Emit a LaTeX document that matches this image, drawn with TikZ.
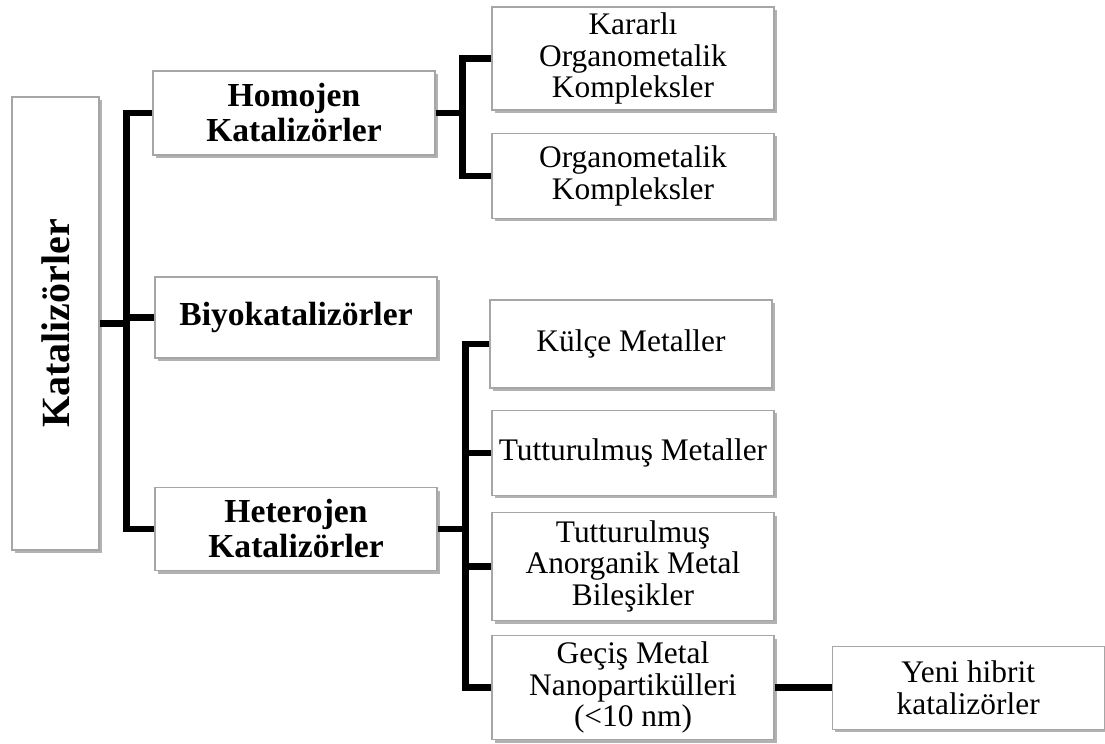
\documentclass[tikz,border=0pt]{standalone}
\usepackage{fontspec}
\setmainfont{Liberation Serif}
\usepackage{graphicx}
\usetikzlibrary{positioning, calc, shadows}

\begin{document}
\begin{tikzpicture}[
  x=0.5pt, y=-0.5pt,
  box/.style={draw=gray!70, line width=0.6pt, fill=white, align=center, inner sep=2pt,
    minimum width=141pt, drop shadow={shadow xshift=1.6pt, shadow yshift=-1.6pt, fill=black, opacity=0.3}},
  grp/.style={box, font=\bfseries\fontsize{16.8}{17.5}\selectfont, minimum height=41.5pt},
  leaf/.style={box, font=\fontsize{15.7}{15.9}\selectfont},
  link/.style={line width=3.2pt}
]
  \useasboundingbox (0,0) rectangle (1105,744);

  % root
  \node[box, minimum width=43.5pt, minimum height=226.5pt] (kat) at (55.5,323.5)
    {\rotatebox{90}{\bfseries\fontsize{20}{22}\selectfont Katalizörler}};

  % second level
  \node[grp, minimum height=42pt] (homo) at (294,113) {Homojen\\Katalizörler};
  \node[grp, minimum height=40.5pt] (biyo) at (296,317.5) {Biyokatalizörler};
  \node[grp] (hetero) at (296,529) {Heterojen\\Katalizörler};

  % homojen leaves
  \node[leaf, minimum height=51.5pt] (kararli) at (633,58.5) {Kararlı\\Organometalik\\Kompleksler};
  \node[leaf, minimum height=42.5pt, below=11pt of kararli] (organo) {Organometalik\\Kompleksler};

  % heterojen leaves
  \node[leaf, minimum height=44pt] (kulce) at (631,344) {Külçe Metaller};
  \node[leaf, minimum height=42.5pt, below=10.5pt of kulce, xshift=1pt] (tutmet) {Tutturulmuş Metaller};
  \node[leaf, minimum height=54pt, below=8pt of tutmet] (anorg) {Tutturulmuş\\Anorganik Metal\\Bileşikler};
  \node[leaf, minimum height=52pt, below=7pt of anorg] (gecis) {Geçiş Metal\\Nanopartikülleri\\(<10 nm)};
  \node[leaf, minimum width=136pt, minimum height=41.5pt, right=28.5pt of gecis] (yeni) {Yeni hibrit\\katalizörler};

  % connectors
  \coordinate (j1) at ($(kat.east)+(27,0)$);
  \draw[link] (kat.east) -- (j1);
  \draw[link] (homo.west) -| (j1) |- (hetero.west);
  \draw[link] (j1 |- biyo.west) -- (biyo.west);

  \coordinate (j2) at ($(homo.east)+(27,0)$);
  \draw[link] (homo.east) -- (j2);
  \draw[link] (kararli.west) -| (j2) |- (organo.west);

  \coordinate (j3) at ($(hetero.east)+(28,0)$);
  \draw[link] (hetero.east) -- (j3);
  \draw[link] (kulce.west) -| (j3) |- (gecis.west);
  \draw[link] (j3 |- tutmet.west) -- (tutmet.west);
  \draw[link] (j3 |- anorg.west) -- (anorg.west);

  \draw[link] (gecis.east) -- (yeni.west);
\end{tikzpicture}
\end{document}
